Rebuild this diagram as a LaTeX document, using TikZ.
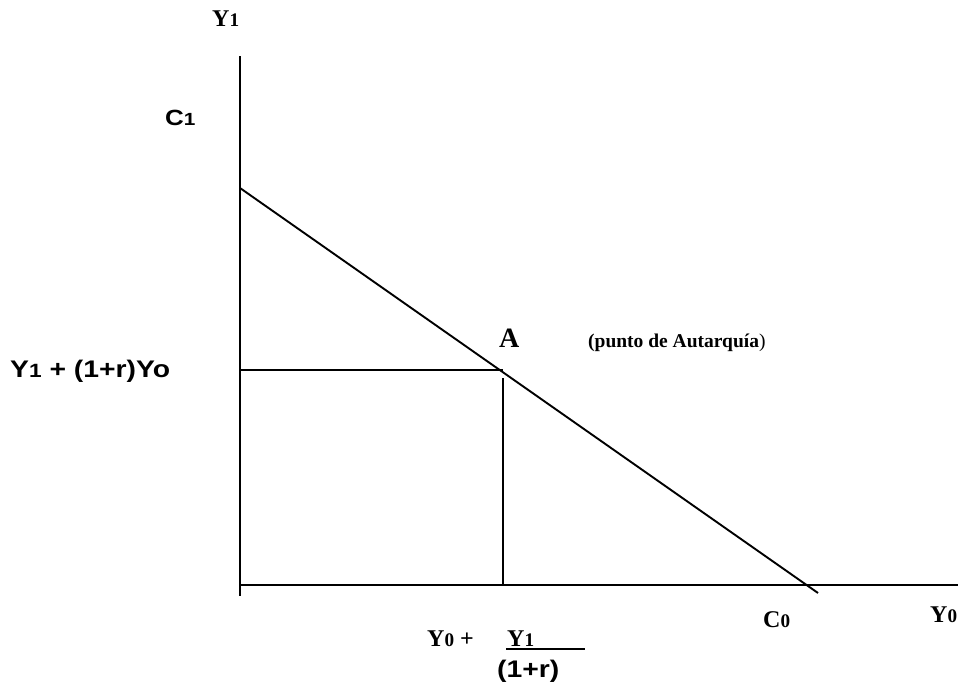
\documentclass[tikz,border=0pt]{standalone}
\usepackage{fontspec}
\setmainfont{Liberation Serif}
\setsansfont{Liberation Sans}
\usetikzlibrary{positioning}

% small index digit, kept on the baseline
\newcommand{\idx}[1]{\scalebox{0.8}{#1}}
% sans labels are drawn a little wider
\newcommand{\wide}[1]{\scalebox{1.18}[1]{#1}}

\begin{document}
\begin{tikzpicture}[
    x=1pt, y=-1pt,
    axis/.style={line width=1.9pt},
    guide/.style={line width=1.9pt},
    serif/.style={inner sep=0pt, anchor=base west, font=\fontsize{24}{28}\selectfont\bfseries},
    pointlbl/.style={inner sep=0pt, anchor=base west, font=\fontsize{28}{32}\selectfont\bfseries},
    note/.style={inner sep=0pt, anchor=base west, font=\fontsize{19.5}{23}\selectfont\bfseries},
    sans/.style={inner sep=0pt, anchor=base west, font=\fontsize{24}{28}\selectfont\sffamily\bfseries},
    smallsans/.style={sans, font=\fontsize{22}{26}\selectfont\sffamily\bfseries}
]
\useasboundingbox (0,0) rectangle (958,686);

% Axes
\coordinate (ytop) at (240,56);
\coordinate (ybot) at (240,596);
\coordinate (origin) at (240,585);
\coordinate (xend) at (958,585);
\draw[axis] (ytop) -- (ybot);
\draw[axis] (origin) -- (xend);

% Budget line
\coordinate (c1) at (240,188);
\coordinate (c0) at (818,593);
\draw[axis] (c1) -- (c0);

% Autarky point A and guides
\coordinate (ylev) at (240,370);
\coordinate (apt) at (503,370);
\coordinate (atop) at (503,378);
\coordinate (afoot) at (503,585);
\draw[guide] (ylev) -- (apt);
\draw[guide] (atop) -- (afoot);

% Axis labels
\node[serif] (yaxis) at (212,26) {Y\idx{1}};
\node[serif] (xaxis) at (930,622) {Y\idx{0}};
\node[smallsans] (cone) at (165,125) {\wide{C\idx{1}}};
\node[serif] (czero) at (763,627) {C\idx{0}};

% Point labels
\node[pointlbl] (alab) at (499,347) {A};
\node[note] (autarky) at (588,347) {(punto de Autarquía\textmd{)}};
\node[sans] (wealth) at (10,377) {\wide{Y\idx{1} + (1+r)Yo}};

% Present value on the horizontal axis
\node[serif] (pvleft) at (427,646) {Y\idx{0} +};
\node[serif] (pvnum) at (507,646) {Y\idx{1}};
\coordinate (barl) at (506,649);
\coordinate (barr) at (585,649);
\draw[line width=2.4pt] (barl) -- (barr);
\node[sans] (pvden) at (497,677) {\wide{(1+r)}};
\end{tikzpicture}
\end{document}
